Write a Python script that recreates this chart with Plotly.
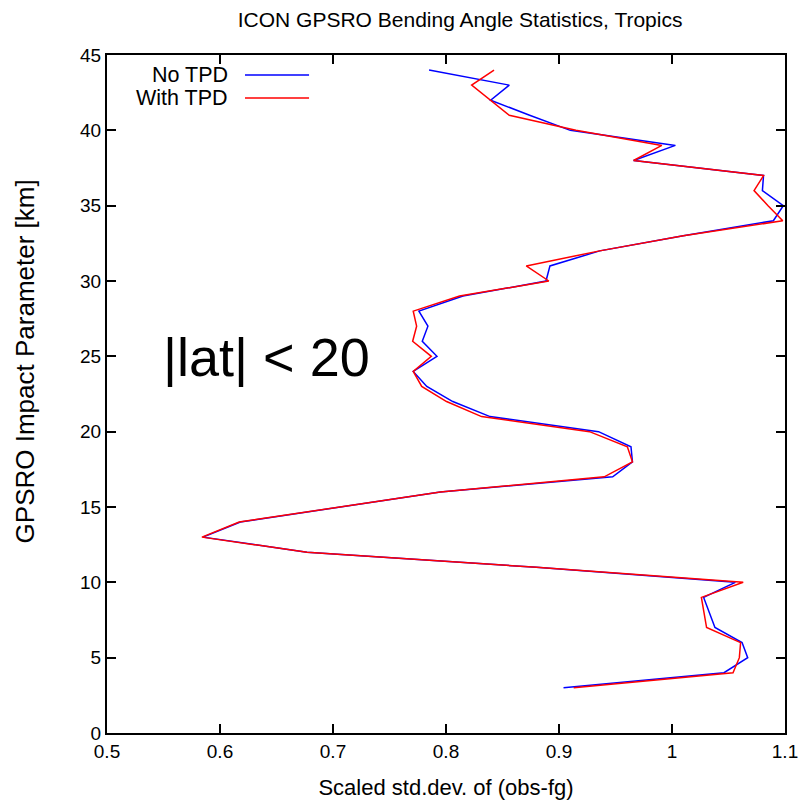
import plotly.graph_objects as go

impact_km = list(range(3, 45))

no_tpd = [0.904, 1.046, 1.067, 1.062, 1.038, 1.033, 1.028, 1.056, 0.880, 0.677,
          0.585, 0.618, 0.706, 0.795, 0.9475, 0.965, 0.9637, 0.935, 0.839, 0.806,
          0.783, 0.771, 0.792, 0.779, 0.784, 0.776, 0.815, 0.8885, 0.892, 0.936,
          1.010, 1.0897, 1.0985, 1.080, 1.081, 0.966, 1.003, 0.910, 0.874, 0.8395,
          0.856, 0.785]

with_tpd = [0.913, 1.054, 1.0596, 1.0607, 1.0306, 1.028, 1.026, 1.063, 0.880, 0.677,
            0.584, 0.617, 0.706, 0.795, 0.940, 0.965, 0.9605, 0.927, 0.8315, 0.8005,
            0.7785, 0.771, 0.787, 0.7705, 0.774, 0.771, 0.812, 0.891, 0.871, 0.936,
            1.010, 1.098, 1.085, 1.0726, 1.081, 0.966, 0.991, 0.915, 0.856, 0.839,
            0.8227, 0.8425]

series_names = ["No TPD", "With TPD"]
series_colors = ["#0000ff", "#ff0000"]

x_ticks = [0.5, 0.6, 0.7, 0.8, 0.9, 1.0, 1.1]
x_tick_labels = ["0.5", "0.6", "0.7", "0.8", "0.9", "1", "1.1"]
y_ticks = [0, 5, 10, 15, 20, 25, 30, 35, 40, 45]

FONT = "Liberation Sans, Arial, sans-serif"

fig = go.Figure()
for vals, name, col in zip([no_tpd, with_tpd], series_names, series_colors):
    fig.add_trace(go.Scatter(x=vals, y=impact_km, mode="lines", name=name,
                             line=dict(color=col, width=1.5), showlegend=False))

# gnuplot-style legend: text right-aligned, sample line to the right
leg_y = [0.9705, 0.9366]
for name, col, yy in zip(series_names, series_colors, leg_y):
    fig.add_annotation(xref="paper", yref="paper", x=0.181, y=yy, text=name,
                       showarrow=False, xanchor="right", yanchor="middle",
                       font=dict(family=FONT, size=21.5, color="black"))
    fig.add_shape(type="line", xref="paper", yref="paper", x0=0.2035, x1=0.298,
                  y0=yy, y1=yy, line=dict(color=col, width=1.5))

fig.add_annotation(x=0.641, y=24.95, xref="x", yref="y", text="|lat| < 20",
                   showarrow=False, font=dict(family=FONT, size=54, color="black"))

# y-axis title placed as in the reference (slightly above the plot centre)
fig.add_annotation(xref="paper", yref="paper", x=-0.121, y=0.548,
                   text="GPSRO Impact Parameter [km]", textangle=-90, showarrow=False,
                   xanchor="center", yanchor="middle",
                   font=dict(family=FONT, size=26, color="black"))

axis_common = dict(showgrid=False, zeroline=False, showline=True, linecolor="black",
                   linewidth=2, mirror="allticks", ticks="inside", ticklen=9,
                   tickwidth=1.5, tickcolor="black", automargin=False,
                   tickfont=dict(family=FONT, size=19, color="black"))

fig.update_layout(
    width=803, height=802,
    margin=dict(l=107, r=18, t=55, b=69),
    paper_bgcolor="white", plot_bgcolor="white",
    title=dict(text="ICON GPSRO Bending Angle Statistics, Tropics", x=0.573, xanchor="center",
               y=0.975, yanchor="middle", font=dict(family=FONT, size=21, color="black"),
               automargin=False),
    xaxis=dict(range=[0.5, 1.1], tickvals=x_ticks, ticktext=x_tick_labels,
               title=dict(text="Scaled std.dev. of (obs-fg)", standoff=19,
                          font=dict(family=FONT, size=22, color="black")),
               **axis_common),
    yaxis=dict(range=[0, 45], tickvals=y_ticks, **axis_common),
)

fig.write_html("out.html")
